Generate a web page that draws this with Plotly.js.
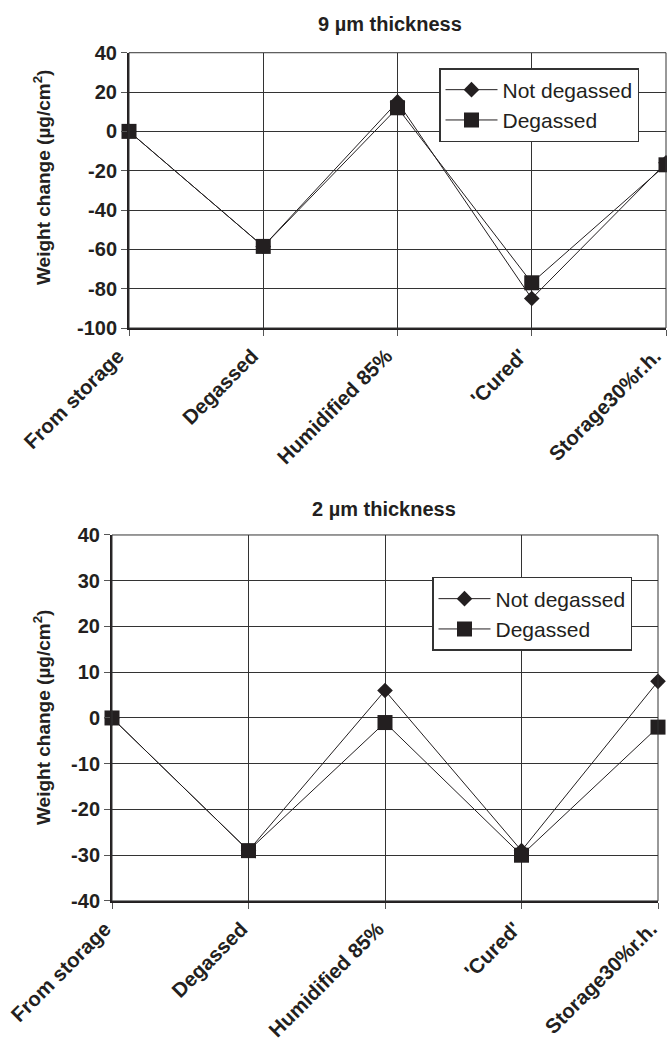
<!DOCTYPE html>
<html>
<head>
<meta charset="utf-8">
<script src="https://cdn.plot.ly/plotly-3.0.1.min.js"></script>
<style>
  html, body { margin: 0; padding: 0; background: #fff; }
  #chart { width: 667px; height: 1040px; }
</style>
</head>
<body>
<div id="chart"></div>
<script>
// Processing steps along the x axis
const steps = ["From storage", "Degassed", "Humidified 85%", "'Cured'", "Storage30%r.h."];

// Weight change (µg/cm²), 9 µm film
const thick9NotDegassed = [0, -58.5, 15, -85, -16];
const thick9Degassed    = [0, -58.5, 12, -77, -17];

// Weight change (µg/cm²), 2 µm film
const thick2NotDegassed = [0, -29, 6, -29, 8];
const thick2Degassed    = [0, -29, -1, -30, -2];

const yTicks9 = [40, 20, 0, -20, -40, -60, -80, -100];
const yTicks2 = [40, 30, 20, 10, 0, -10, -20, -30, -40];

const FONT = "Liberation Sans, Arial, sans-serif";
const INK = "#231f20";

function series(name, y, symbol, size, xa, ya, legendId) {
  return {
    type: "scatter", mode: "lines+markers", name: name,
    x: steps, y: y, xaxis: xa, yaxis: ya, legend: legendId,
    legendgroup: name + legendId,
    line: { color: INK, width: 1 },
    marker: { symbol: symbol, size: size, color: INK, line: { width: 0 } },
    cliponaxis: false
  };
}

const data = [
  series("Not degassed", thick9NotDegassed, "diamond", 12, "x", "y", "legend"),
  series("Degassed", thick9Degassed, "square", 15, "x", "y", "legend"),
  series("Not degassed", thick2NotDegassed, "diamond", 12, "x2", "y2", "legend2"),
  series("Degassed", thick2Degassed, "square", 15, "x2", "y2", "legend2")
];

function xAxis(domain, anchor, shift) {
  return {
    domain: domain, anchor: anchor, type: "category",
    categoryorder: "array", categoryarray: steps,
    range: [0, 4], fixedrange: true,
    showgrid: true, gridcolor: "#333", gridwidth: 1,
    showline: true, linecolor: INK, linewidth: 2,
    ticks: "outside", ticklen: 6, tickcolor: "#555", tickwidth: 1,
    tickangle: -45, ticklabelshift: shift,
    tickfont: { family: FONT, size: 20.5, weight: "bold", color: INK },
    zeroline: false
  };
}

function yAxis(domain, anchor, ticks) {
  return {
    domain: domain, anchor: anchor,
    range: [ticks[ticks.length - 1], ticks[0]],
    tickvals: ticks, ticktext: ticks.map(String),
    showgrid: true, gridcolor: "#333", gridwidth: 1,
    showline: true, linecolor: INK, linewidth: 2,
    ticks: "outside", ticklen: 6, tickcolor: "#555", tickwidth: 1,
    tickfont: { family: FONT, size: 20, weight: "bold", color: INK },
    zeroline: false
  };
}

function legendBox(x, y) {
  return {
    x: x, y: y, xanchor: "left", yanchor: "top",
    xref: "paper", yref: "paper",
    bgcolor: "#fff", bordercolor: "#333", borderwidth: 1.5,
    font: { family: FONT, size: 21, color: INK },
    traceorder: "grouped", tracegroupgap: 0,
    itemwidth: 52
  };
}

function frame(xr, yr) {
  return {
    type: "rect", xref: xr + " domain", yref: yr + " domain",
    x0: 0, x1: 1, y0: 0, y1: 1,
    line: { color: "#333", width: 1 }, layer: "above"
  };
}

const titleFont = { family: FONT, size: 20, weight: "bold", color: INK };
const axisTitleFont = { family: FONT, size: 19, weight: "bold", color: INK };

const layout = {
  width: 667, height: 1040,
  margin: { l: 0, r: 0, t: 0, b: 0 },
  paper_bgcolor: "#fff", plot_bgcolor: "#fff",
  showlegend: true,
  xaxis: xAxis([129 / 667, 666 / 667], "y", -11),
  yaxis: yAxis([0.6846, 0.9493], "x", yTicks9),
  xaxis2: xAxis([112 / 667, 658 / 667], "y2", -7),
  yaxis2: yAxis([0.1337, 0.4856], "x2", yTicks2),
  legend: legendBox(439 / 667, 0.9346),
  legend2: legendBox(432 / 667, 0.4452),
  shapes: [frame("x", "y"), frame("x2", "y2")],
  annotations: [
    { text: "9 µm thickness", xref: "paper", yref: "paper",
      x: 390 / 667, y: 1 - 24 / 1040, xanchor: "center", yanchor: "middle",
      showarrow: false, font: titleFont },
    { text: "2 µm thickness", xref: "paper", yref: "paper",
      x: 384 / 667, y: 1 - 509 / 1040, xanchor: "center", yanchor: "middle",
      showarrow: false, font: titleFont },
    { text: "Weight change (µg/cm<sup>2</sup>)", xref: "paper", yref: "paper",
      x: 42 / 667, y: 1 - 178 / 1040, xanchor: "center", yanchor: "middle",
      textangle: -90, showarrow: false, font: axisTitleFont },
    { text: "Weight change (µg/cm<sup>2</sup>)", xref: "paper", yref: "paper",
      x: 42 / 667, y: 1 - 718 / 1040, xanchor: "center", yanchor: "middle",
      textangle: -90, showarrow: false, font: axisTitleFont }
  ]
};

Plotly.newPlot("chart", data, layout, { displayModeBar: false, staticPlot: true });
</script>
</body>
</html>
